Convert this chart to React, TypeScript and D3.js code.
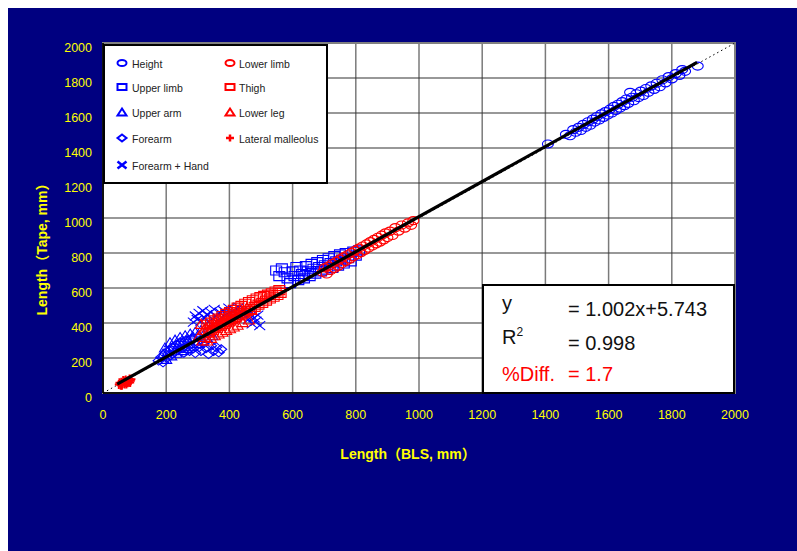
import React from "react";
import * as d3 from "d3";

// values: [BLS, Tape] in mm
const heightPts = [
  [1408, 1423], [1465, 1478], [1478, 1470], [1488, 1505], [1496, 1490], [1505, 1518],
  [1512, 1500], [1520, 1535], [1528, 1518], [1535, 1550], [1542, 1530], [1550, 1565],
  [1556, 1548], [1563, 1580], [1570, 1560], [1577, 1595], [1584, 1575], [1590, 1608],
  [1597, 1588], [1604, 1622], [1610, 1600], [1617, 1638], [1623, 1615], [1630, 1650],
  [1636, 1628], [1643, 1665], [1650, 1642], [1656, 1680], [1662, 1655], [1668, 1718],
  [1674, 1690], [1680, 1670], [1688, 1710], [1695, 1688], [1702, 1725], [1710, 1700],
  [1718, 1740], [1726, 1718], [1735, 1755], [1744, 1735], [1752, 1770], [1762, 1750],
  [1770, 1790], [1780, 1772], [1790, 1808], [1800, 1795], [1812, 1825], [1824, 1815],
  [1833, 1848], [1842, 1838], [1882, 1868],
];
const upperLimbPts = [
  [548, 700], [558, 668], [566, 712], [575, 690], [584, 655], [592, 628], [600, 695],
  [606, 668], [612, 720], [618, 645], [624, 700], [630, 680], [636, 655], [642, 725],
  [648, 695], [654, 668], [660, 738], [666, 710], [672, 682], [678, 748], [684, 720],
  [690, 695], [696, 760], [702, 730], [708, 705], [714, 770], [720, 742], [726, 715],
  [732, 782], [738, 752], [744, 728], [750, 792], [756, 762], [762, 740], [768, 800],
  [776, 770], [784, 752], [792, 808], [800, 785], [810, 815],
];
const upperArmPts = [
  [190, 225], [196, 260], [200, 195], [206, 240], [212, 290], [216, 215], [222, 265],
  [228, 305], [232, 230], [238, 280], [244, 320], [248, 245], [254, 295], [260, 330],
  [264, 258], [270, 305], [276, 340], [280, 270], [286, 320], [292, 350], [298, 285],
  [304, 330], [310, 360], [316, 300], [322, 345], [330, 315], [338, 355], [346, 330],
];
const forearmPts = [
  [176, 185], [184, 205], [190, 175], [196, 225], [202, 200], [208, 245], [214, 215],
  [220, 260], [226, 232], [232, 275], [238, 245], [244, 290], [250, 255], [256, 230],
  [262, 300], [268, 265], [274, 240], [280, 310], [286, 255], [292, 228], [298, 290],
  [304, 262], [310, 240], [318, 285], [326, 255], [334, 222], [342, 270], [350, 240],
  [358, 262], [366, 232], [374, 250],
];
const forearmHandPts = [
  [286, 405], [292, 440], [298, 420], [304, 455], [310, 410], [316, 470], [322, 430],
  [328, 448], [334, 405], [340, 462], [346, 425], [352, 478], [358, 440], [364, 415],
  [370, 460], [376, 432], [382, 470], [390, 448], [398, 485], [406, 455], [414, 475],
  [422, 445], [430, 490], [438, 460], [446, 478], [454, 440], [460, 420], [466, 452],
  [472, 395], [478, 430], [484, 410], [490, 445], [496, 385],
];
const lowerLimbPts = [
  [695, 690], [702, 715], [708, 680], [714, 725], [720, 700], [726, 740], [732, 712],
  [738, 752], [744, 725], [750, 765], [756, 740], [762, 778], [768, 752], [774, 790],
  [780, 765], [786, 802], [792, 778], [798, 815], [804, 790], [810, 828], [816, 802],
  [822, 840], [828, 815], [834, 852], [840, 828], [846, 865], [852, 840], [858, 878],
  [864, 852], [870, 890], [876, 862], [882, 902], [888, 875], [894, 915], [900, 888],
  [908, 925], [916, 900], [925, 945], [935, 925], [945, 960], [955, 942], [965, 972],
  [975, 958], [982, 985],
];
const thighPts = [
  [330, 390], [336, 345], [342, 402], [348, 360], [354, 415], [360, 372], [366, 425],
  [372, 385], [378, 440], [384, 395], [390, 452], [396, 408], [402, 462], [408, 420],
  [414, 475], [420, 432], [426, 488], [432, 445], [438, 498], [444, 455], [450, 510],
  [456, 468], [462, 520], [468, 480], [474, 530], [480, 492], [486, 540], [492, 505],
  [498, 548], [504, 515], [510, 555], [516, 528], [522, 562], [528, 540], [534, 570],
  [540, 550], [546, 580], [552, 560], [558, 588], [562, 572],
];
const lowerLegPts = [
  [305, 330], [310, 395], [314, 300], [318, 360], [322, 320], [326, 380], [330, 300],
  [334, 350], [338, 395], [342, 315], [346, 370], [350, 405], [354, 330], [358, 385],
  [362, 420], [366, 340], [370, 395], [374, 430], [378, 350], [382, 405], [386, 440],
  [390, 360], [394, 415], [398, 450], [402, 370], [406, 425], [410, 460], [414, 380],
  [418, 435], [422, 470], [426, 390], [430, 445], [436, 480], [442, 405], [448, 460],
  [455, 490], [462, 420], [470, 475],
];
const malleolusPts = [
  [50, 48], [52, 58], [56, 44], [58, 62], [62, 55], [64, 72], [66, 68], [70, 60],
  [72, 75], [74, 52], [76, 66], [80, 72], [82, 62], [84, 80], [88, 70], [60, 45],
  [68, 52], [78, 58], [90, 78], [86, 60],
];

const xTicks = [0, 200, 400, 600, 800, 1000, 1200, 1400, 1600, 1800, 2000];
const yTicks = [0, 200, 400, 600, 800, 1000, 1200, 1400, 1600, 1800, 2000];

// fit shown in the box
const slope = 1.002;
const intercept = 5.743;
const fitRange = [45, 1880];

const BLUE = "#0000ff";
const RED = "#ff0000";
const YELLOW = "#ffff00";
const FONT = "'Liberation Sans', Arial, 'Noto Sans CJK JP', sans-serif";

const series = [
  { name: "Height", color: BLUE, shape: "circle", data: heightPts },
  { name: "Upper limb", color: BLUE, shape: "square", data: upperLimbPts },
  { name: "Upper arm", color: BLUE, shape: "triangle", data: upperArmPts },
  { name: "Forearm", color: BLUE, shape: "diamond", data: forearmPts },
  { name: "Forearm + Hand", color: BLUE, shape: "x", data: forearmHandPts },
  { name: "Lower limb", color: RED, shape: "circle", data: lowerLimbPts },
  { name: "Thigh", color: RED, shape: "square", data: thighPts },
  { name: "Lower leg", color: RED, shape: "triangle", data: lowerLegPts },
  { name: "Lateral malleolus", color: RED, shape: "plus", data: malleolusPts },
];

function markerPath(shape: string, w: number, h: number) {
  const a = w / 2;
  const b = h / 2;
  switch (shape) {
    case "circle":
      return `M${-a},0A${a},${b} 0 1,0 ${a},0A${a},${b} 0 1,0 ${-a},0Z`;
    case "square":
      return `M${-a},${-b}H${a}V${b}H${-a}Z`;
    case "triangle":
      return `M0,${-b}L${a},${b}H${-a}Z`;
    case "diamond":
      return `M0,${-b}L${a},0L0,${b}L${-a},0Z`;
    case "x":
      return `M${-a},${-b}L${a},${b}M${a},${-b}L${-a},${b}`;
    default:
      return `M${-a},0H${a}M0,${-b}V${b}`;
  }
}

export default function App() {
  const x = d3.scaleLinear().domain([0, 2000]).range([103, 735]);
  const y = d3.scaleLinear().domain([0, 2000]).range([393, 43]);
  const line = d3
    .line<number>()
    .x((d) => x(d))
    .y((d) => y(slope * d + intercept));

  const legendRows = [63, 87, 112, 138, 165];

  return (
    <svg
      width={797}
      height={551}
      style={{ position: "absolute", left: 0, top: 0, display: "block" }}
      fontFamily={FONT}
    >
      <rect x={8} y={8} width={789} height={543} fill="#000080" />
      <rect x={x(0)} y={y(2000)} width={x(2000) - x(0)} height={y(0) - y(2000)} fill="#fff" />

      {/* grid */}
      {xTicks.slice(1, -1).map((t) => (
        <line key={"gx" + t} x1={x(t)} x2={x(t)} y1={y(0)} y2={y(2000)} stroke="#7a7a7a" strokeWidth={1.5} />
      ))}
      {yTicks.slice(1, -1).map((t) => (
        <line key={"gy" + t} x1={x(0)} x2={x(2000)} y1={y(t)} y2={y(t)} stroke="#333" strokeWidth={1.2} />
      ))}
      <rect
        x={x(0)}
        y={y(2000)}
        width={x(2000) - x(0)}
        height={y(0) - y(2000)}
        fill="none"
        stroke="#808080"
        strokeWidth={2}
      />
      <line x1={x(0)} x2={x(2000)} y1={y(0)} y2={y(0)} stroke="#111" strokeWidth={2} />
      <line x1={x(0)} x2={x(0)} y1={y(0)} y2={y(2000)} stroke="#111" strokeWidth={2} />

      {/* identity line */}
      <line x1={x(0)} y1={y(0)} x2={x(2000)} y2={y(2000)} stroke="#000" strokeWidth={1} strokeDasharray="1.5,3" />

      {/* points */}
      {series.map((s) => (
        <g key={s.name}>
          {s.data.map((d, i) => (
            <path
              key={i}
              transform={`translate(${x(d[0])},${y(d[1])})`}
              d={markerPath(s.shape, s.shape === "plus" ? 8 : 11, s.shape === "circle" ? 8 : 9)}
              fill="none"
              stroke={s.color}
              strokeWidth={s.shape === "plus" ? 2 : 1.1}
            />
          ))}
        </g>
      ))}

      {/* fit line */}
      <path d={line(fitRange) || ""} stroke="#000" strokeWidth={3.2} fill="none" />

      {/* tick labels */}
      {xTicks.map((t) => (
        <text key={"tx" + t} x={x(t)} y={419} textAnchor="middle" fill={YELLOW} fontSize={12.5}>
          {t}
        </text>
      ))}
      {yTicks.map((t) => (
        <text key={"ty" + t} x={92} y={y(t) + 9} textAnchor="end" fill={YELLOW} fontSize={12.5}>
          {t}
        </text>
      ))}

      {/* axis titles */}
      <text x={408} y={459} textAnchor="middle" fill={YELLOW} fontSize={14} fontWeight="bold">
        Length（BLS, mm）
      </text>
      <text
        transform="translate(47,246) rotate(-90)"
        textAnchor="middle"
        fill={YELLOW}
        fontSize={14}
        fontWeight="bold"
      >
        Length（Tape, mm）
      </text>

      {/* legend */}
      <rect x={104} y={45} width={223} height={138} fill="#fff" stroke="#000" strokeWidth={2} />
      {series.map((s, i) => {
        const col = i < 5 ? 0 : 1;
        const row = i < 5 ? i : i - 5;
        const mx = col === 0 ? 122 : 230;
        const tx = col === 0 ? 132 : 239;
        const cy = legendRows[row];
        return (
          <g key={"lg" + s.name}>
            <path
              transform={`translate(${mx},${cy})`}
              d={markerPath(s.shape, s.shape === "plus" ? 8 : 9, s.shape === "circle" || s.shape === "square" ? 6 : 7)}
              fill="none"
              stroke={s.color}
              strokeWidth={s.shape === "x" || s.shape === "plus" ? 2.5 : 2}
            />
            <text x={tx} y={cy + 1} dominantBaseline="central" fontSize={10.5} fill="#222">
              {s.name}
            </text>
          </g>
        );
      })}

      {/* stats box */}
      <rect x={483} y={285} width={251} height={108} fill="#fff" stroke="#000" strokeWidth={2} />
      <g fontSize={20} fill="#111">
        <text x={502} y={310}>y</text>
        <text x={568} y={316}>= 1.002x+5.743</text>
        <text x={502} y={344}>
          R<tspan fontSize={12} dy={-8}>2</tspan>
        </text>
        <text x={568} y={350}>= 0.998</text>
        <text x={502} y={381} fill={RED}>%Diff.</text>
        <text x={568} y={381} fill={RED}>= 1.7</text>
      </g>
    </svg>
  );
}
